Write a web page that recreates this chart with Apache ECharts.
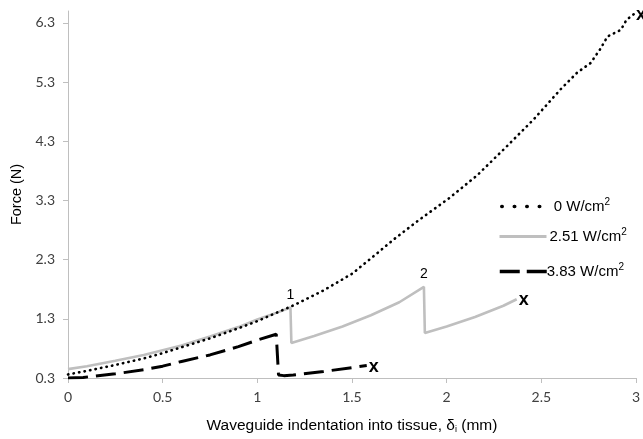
<!DOCTYPE html>
<html><head><meta charset="utf-8">
<script src="https://cdn.jsdelivr.net/npm/echarts@6/dist/echarts.min.js"></script>
<style>html,body{margin:0;padding:0;background:#fff}#c{width:643px;height:439px}</style>
</head><body><div id="c"></div>
<script>
// Data
const seriesNames = ['0 W/cm2', '2.51 W/cm2', '3.83 W/cm2'];
const x0 = [0, 0.1, 0.25, 0.4, 0.5, 0.6, 0.75, 0.9, 1.0, 1.1, 1.2, 1.35, 1.5, 1.6, 1.72, 1.85, 2.01, 2.16, 2.32, 2.46, 2.6, 2.69, 2.76, 2.81, 2.85, 2.92, 2.95, 2.99];
const y0 = [0.36, 0.42, 0.52, 0.63, 0.72, 0.82, 0.97, 1.14, 1.26, 1.40, 1.54, 1.78, 2.06, 2.32, 2.64, 2.96, 3.33, 3.72, 4.22, 4.67, 5.17, 5.46, 5.62, 5.85, 6.07, 6.18, 6.35, 6.45];
const x1 = [0, 0.1, 0.25, 0.4, 0.5, 0.6, 0.75, 0.9, 1.0, 1.1, 1.175, 1.18, 1.3, 1.45, 1.6, 1.75, 1.88, 1.885, 2.0, 2.15, 2.3, 2.37];
const y1 = [0.45, 0.50, 0.59, 0.69, 0.77, 0.85, 1.00, 1.16, 1.29, 1.40, 1.49, 0.89, 1.01, 1.17, 1.36, 1.58, 1.84, 1.06, 1.17, 1.33, 1.52, 1.63];
const x2 = [0, 0.08, 0.25, 0.4, 0.5, 0.6, 0.75, 0.9, 1.0, 1.1, 1.112, 1.14, 1.19, 1.35, 1.578];
const y2 = [0.30, 0.31, 0.37, 0.44, 0.50, 0.58, 0.69, 0.83, 0.94, 1.04, 0.35, 0.34, 0.35, 0.41, 0.51];
const xTicks = [0, 0.5, 1, 1.5, 2, 2.5, 3];
const yTicks = [0.3, 1.3, 2.3, 3.3, 4.3, 5.3, 6.3];
const peakLabels = ['1', '2'];
const peakIndex = [10, 16]; // indices of the peaks in the gray series

const toPts = (xs, ys) => xs.map((x, i) => [x, ys[i]]);

const endX = { show: true, formatter: 'x', fontFamily: 'Liberation Sans', fontWeight: 'bold',
  fontSize: 18, color: '#000', distance: 2, offset: [0, 1] };

const legendRich = {
  a: { fontFamily: 'Liberation Sans', fontSize: 15, color: '#000' },
  s: { fontFamily: 'Liberation Sans', fontSize: 10, color: '#000', padding: [0, 0, 9, 0] }
};
const legendFmt = n => '{a|' + n.replace(/2$/, '') + '}{s|2}';
const hideSym = { opacity: 0 };

const chart = echarts.init(document.getElementById('c'), null, { renderer: 'canvas' });
chart.setOption({
  animation: false,
  grid: { left: 68, right: 7, top: 11, bottom: 59, containLabel: false },
  legend: [
    { data: [seriesNames[0]], left: 495, top: 192, itemWidth: 44, itemHeight: 14, itemGap: 0,
      formatter: legendFmt, textStyle: { rich: legendRich, padding: [0, 0, 0, 3] },
      itemStyle: hideSym,
      lineStyle: { type: [0.5, 12], width: 3.5, cap: 'round' } },
    { data: [seriesNames[1]], left: 493, top: 222, itemWidth: 47, itemHeight: 14,
      formatter: legendFmt, textStyle: { rich: legendRich, padding: [0, 0, 0, -2] },
      itemStyle: hideSym,
      lineStyle: { width: 3 } },
    { data: [seriesNames[2]], left: 493, top: 257, itemWidth: 47, itemHeight: 14,
      formatter: legendFmt, textStyle: { rich: legendRich, padding: [0, 0, 0, -5] },
      itemStyle: hideSym,
      lineStyle: { type: [20, 7], width: 3.5 } }
  ],
  xAxis: {
    type: 'value', min: 0, max: 3, interval: 0.5,
    axisLine: { lineStyle: { color: '#bfbfbf', width: 1 } },
    axisTick: { show: true, length: 5, lineStyle: { color: '#bfbfbf' } },
    splitLine: { show: false },
    axisLabel: { fontFamily: 'Lato', fontSize: 14, color: '#404040', margin: 12 },
    name: 'Waveguide indentation into tissue, {d|δ}{i|i} (mm)',
    nameLocation: 'middle', nameGap: 40,
    nameTextStyle: { fontFamily: 'Liberation Sans', fontSize: 15.5, color: '#000',
      rich: { d: { fontFamily: 'Liberation Sans', fontSize: 15.5, color: '#000' },
              i: { fontFamily: 'Liberation Sans', fontSize: 9, color: '#000', padding: [7, 0, 0, 0] } } }
  },
  yAxis: {
    type: 'value', min: 0.3, max: 6.5,
    axisLine: { show: true, lineStyle: { color: '#bfbfbf', width: 1 } },
    axisTick: { show: true, length: 5, lineStyle: { color: '#bfbfbf' }, customValues: yTicks },
    splitLine: { show: false },
    axisLabel: { fontFamily: 'Lato', fontSize: 14, color: '#404040', margin: 13, customValues: yTicks,
      formatter: v => v.toFixed(1) },
    name: 'Force (N)', nameLocation: 'middle', nameGap: 43, nameRotate: 90,
    nameTextStyle: { fontFamily: 'Liberation Sans', fontSize: 14.5, color: '#000' }
  },
  series: [
    { name: seriesNames[0], type: 'line', data: toPts(x0, y0), showSymbol: false, symbol: 'none',
      lineStyle: { color: '#000', width: 2.6, type: [0.4, 5.2], cap: 'round' }, itemStyle: { color: '#000' },
      endLabel: endX, z: 3 },
    { name: seriesNames[1], type: 'line', data: toPts(x1, y1), showSymbol: false, symbol: 'none',
      lineStyle: { color: '#bfbfbf', width: 2.6 }, itemStyle: { color: '#bfbfbf' },
      endLabel: endX, z: 2,
      markPoint: {
        symbol: 'circle', symbolSize: 1, itemStyle: { color: 'rgba(0,0,0,0)' },
        label: { show: true, position: 'top', distance: 5, fontFamily: 'Liberation Sans', fontSize: 14, color: '#000',
          formatter: p => p.name },
        data: peakIndex.map((k, i) => ({ name: peakLabels[i], coord: [x1[k], y1[k]] }))
      } },
    { name: seriesNames[2], type: 'line', data: toPts(x2, y2), showSymbol: false, symbol: 'none',
      lineStyle: { color: '#000', width: 3, type: [20, 8] }, itemStyle: { color: '#000' },
      endLabel: endX, z: 4 }
  ]
});
</script></body></html>
